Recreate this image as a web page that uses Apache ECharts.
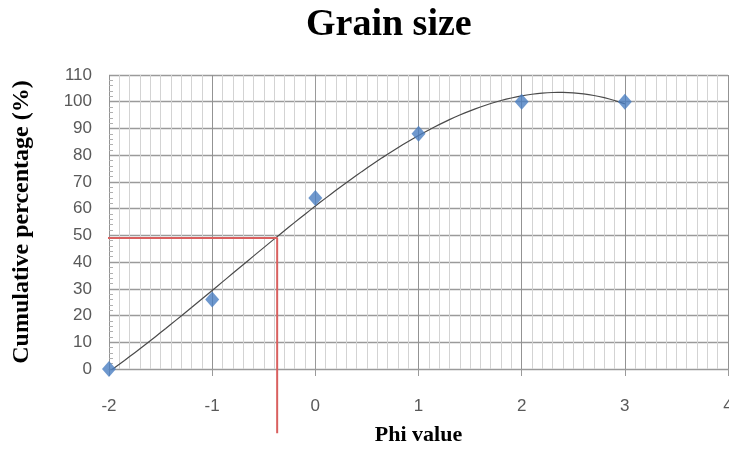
<!DOCTYPE html>
<html><head><meta charset="utf-8">
<script src="https://cdn.jsdelivr.net/npm/echarts@6/dist/echarts.min.js"></script>
<style>html,body{margin:0;padding:0;background:#fff}#c{width:729px;height:451px}</style>
</head><body><div id="c"></div>
<script>
// ---- data ----
const phi = [-2, -1, 0, 1, 2, 3];
const cumPct = [0, 26, 64, 88, 100, 100];
const xTickRange = [-2, 4];
const yTickRange = [0, 110];
const readPhi = -0.37;      // phi value read at 50 % (red guide)
const readPct = 49;         // red horizontal guide level
const guideStartPhi = -2.135;
const guideEndPct = -24;

// ---- cubic least-squares trendline (computed from the data) ----
function polyfit(xs, ys, order) {
  const n = order + 1;
  const A = [], b = [];
  for (let i = 0; i < n; i++) {
    A.push([]);
    for (let j = 0; j < n; j++) {
      let s = 0; xs.forEach(x => s += Math.pow(x, i + j)); A[i].push(s);
    }
    let s = 0; xs.forEach((x, k) => s += Math.pow(x, i) * ys[k]); b.push(s);
  }
  for (let c = 0; c < n; c++) {
    let p = c;
    for (let r = c + 1; r < n; r++) if (Math.abs(A[r][c]) > Math.abs(A[p][c])) p = r;
    [A[c], A[p]] = [A[p], A[c]]; [b[c], b[p]] = [b[p], b[c]];
    for (let r = 0; r < n; r++) {
      if (r === c) continue;
      const f = A[r][c] / A[c][c];
      for (let k = c; k < n; k++) A[r][k] -= f * A[c][k];
      b[r] -= f * b[c];
    }
  }
  return b.map((v, i) => v / A[i][i]);
}
const coef = polyfit(phi, cumPct, 3);
const trend = [];
const x0 = phi[0], x1 = phi[phi.length - 1];
for (let i = 0; i <= 100; i++) {
  const x = x0 + (x1 - x0) * i / 100;
  let y = 0; coef.forEach((c, k) => y += c * Math.pow(x, k));
  trend.push([x, y]);
}
const points = phi.map((x, i) => [x, cumPct[i]]);
const guide = [[guideStartPhi, readPct], [readPhi, readPct], [readPhi, guideEndPct]];

const chart = echarts.init(document.getElementById('c'));
const labelFont = {fontFamily: 'Liberation Sans', fontSize: 17, color: '#595959'};
chart.setOption({
  animation: false,
  backgroundColor: '#ffffff',
  title: {
    text: 'Grain size', left: 301, top: 1,
    textStyle: {fontFamily: 'Liberation Serif', fontWeight: 'bold', fontSize: 38, color: '#000'}
  },
  grid: {left: 109, right: 1, top: 75, bottom: 82, outerBoundsMode: 'none', containLabel: false},
  xAxis: {
    type: 'value', min: xTickRange[0], max: xTickRange[1], interval: 1,
    name: 'Phi value', nameLocation: 'middle', nameGap: 55,
    nameTextStyle: {fontFamily: 'Liberation Serif', fontWeight: 'bold', fontSize: 22, color: '#000'},
    axisLine: {show: true, lineStyle: {color: '#9a9a9a', width: 1}},
    axisTick: {show: true, length: 7, lineStyle: {color: '#9a9a9a'}},
    axisLabel: Object.assign({margin: 29, showMaxLabel: true}, labelFont),
    splitLine: {show: true, lineStyle: {color: '#939393', width: 1}},
    minorTick: {show: false, splitNumber: 10},
    minorSplitLine: {show: true, lineStyle: {color: '#d3d3d3', width: 1}}
  },
  yAxis: [{
    type: 'value', min: yTickRange[0], max: yTickRange[1], interval: 10,
    name: 'Cumulative percentage (%)', nameLocation: 'middle', nameGap: 75,
    nameTextStyle: {fontFamily: 'Liberation Serif', fontWeight: 'bold', fontSize: 24, color: '#000'},
    axisLine: {show: true, lineStyle: {color: '#9a9a9a', width: 1}},
    axisTick: {show: true, length: 6, lineStyle: {color: '#9a9a9a'}},
    axisLabel: Object.assign({margin: 17}, labelFont),
    splitLine: {show: true, lineStyle: {color: '#9a9a9a', width: 1.4}}
  }, {
    type: 'value', min: yTickRange[0], max: yTickRange[1], interval: 10, position: 'left',
    axisLine: {show: false}, axisLabel: {show: false}, splitLine: {show: false},
    axisTick: {show: false, inside: true},
    minorTick: {show: true, splitNumber: 5, length: 4, lineStyle: {color: '#b0b0b0'}}
  }],
  series: [{
    type: 'line', data: trend, showSymbol: false, symbol: 'none', smooth: false,
    lineStyle: {color: '#4a4a4a', width: 1.2}, z: 3
  }, {
    type: 'line', data: guide, symbol: 'none', clip: false,
    lineStyle: {color: '#d9605f', width: 2}, z: 4
  }, {
    type: 'scatter', data: points, symbol: 'diamond', symbolSize: [14, 16],
    itemStyle: {color: '#4a7ec2'}, z: 5
  }]
});
</script></body></html>
